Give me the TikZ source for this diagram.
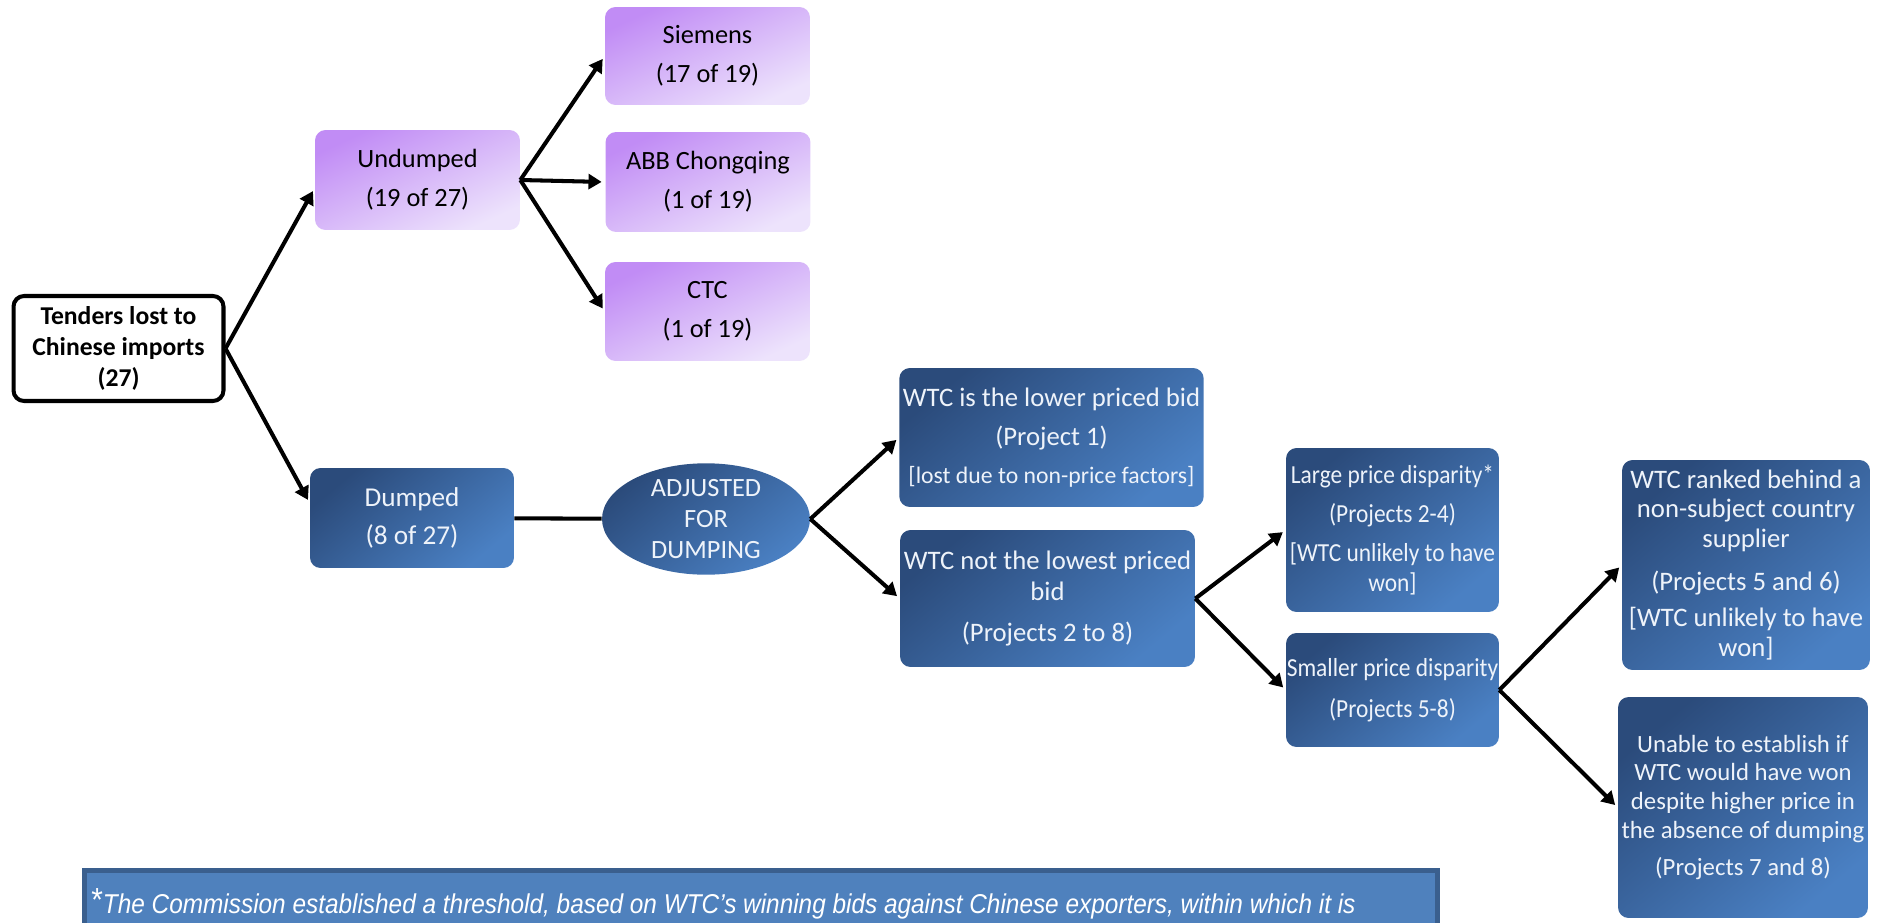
\documentclass[tikz,border=0pt]{standalone}
\usepackage{fontspec}
\setmainfont{Carlito}
\newfontfamily\narrowfont[FakeStretch=0.9]{Carlito}
\newfontfamily\notefont[FakeStretch=0.895]{Liberation Sans}
\usetikzlibrary{arrows.meta,shapes.geometric}
\definecolor{lilacA}{HTML}{C18CF5}
\definecolor{lilacB}{HTML}{EDE3FC}
\definecolor{navyA}{HTML}{2B4B7B}
\definecolor{navyB}{HTML}{4A80C3}
\definecolor{navytext}{HTML}{EEF3FA}
\definecolor{notefill}{HTML}{4F81BD}
\definecolor{noteedge}{HTML}{3A5F8E}
\begin{document}
\begin{tikzpicture}[x=0.02cm,y=-0.02cm,
    box/.style={rounded corners=6pt, align=center, inner sep=2pt},
    lilac/.style={box, top color=lilacA, bottom color=lilacB, shading angle=25,
      font=\fontsize{15}{18}\selectfont},
    navy/.style={box, top color=navyA, bottom color=navyB, shading angle=40,
      text=navytext, font=\fontsize{15.2}{17.5}\selectfont},
    link/.style={line width=2.3pt, -{Triangle[length=7.5pt,width=8.5pt]}, shorten >=2pt}]
    \useasboundingbox (0,0) rectangle (1880,923);
    \clip (0,0) rectangle (1880,923);

    \node[box, draw, line width=2.3pt, fill=white, minimum width=4.2cm, minimum height=2.1cm,
      font=\fontsize{14.6}{17.4}\selectfont\bfseries] (tenders) at (118.5,348.5)
      {Tenders lost to\\Chinese imports\\(27)};

    \node[lilac, minimum width=4.1cm, minimum height=2cm] (undumped) at (417.5,180) {Undumped\\[4pt](19 of 27)};
    \node[lilac, minimum width=4.1cm, minimum height=1.96cm] (siemens) at (707.5,56) {Siemens\\[4pt](17 of 19)};
    \node[lilac, minimum width=4.1cm, minimum height=2cm] (abb) at (708,182) {ABB Chongqing\\[4pt](1 of 19)};
    \node[lilac, minimum width=4.1cm, minimum height=1.98cm] (ctc) at (707.5,311.5) {CTC\\[4pt](1 of 19)};

    \node[navy, font=\fontsize{15.5}{18}\selectfont, minimum width=4.08cm, minimum height=2cm] (dumped) at (412,518)
      {Dumped\\[4pt](8 of 27)};
    \node[navy, ellipse, inner sep=0pt, font=\fontsize{15}{17.5}\selectfont, minimum width=4.16cm, minimum height=1.96cm]
      (adjusted) at (706,519) {ADJUSTED\\FOR\\DUMPING};

    \node[navy, minimum width=6.06cm, minimum height=2.78cm] (lower) at (1051.5,437.5)
      {WTC is the lower priced bid\\[5pt](Project 1)\\[4pt]{\fontsize{13.5}{15}\selectfont [lost due to non-price factors]}};
    \node[navy, minimum width=5.9cm, minimum height=2.74cm] (notlow) at (1047.5,598.5)
      {WTC not the lowest priced\\bid\\[6pt](Projects 2 to 8)};

    \node[navy, inner sep=0pt, font=\narrowfont\fontsize{14.8}{17}\selectfont, minimum width=4.26cm, minimum height=3.28cm]
      (large) at (1392.5,530)
      {Large price disparity*\\[5pt](Projects 2-4)\\[5pt]{[}WTC unlikely to have\\won]};
    \node[navy, inner sep=0pt, font=\narrowfont\fontsize{14.8}{17}\selectfont, minimum width=4.26cm, minimum height=2.28cm]
      (smaller) at (1392.5,690)
      {Smaller price disparity\\[6pt](Projects 5-8)};

    \node[navy, font=\fontsize{15.2}{17}\selectfont, minimum width=4.96cm, minimum height=4.2cm] (ranked) at (1746,565)
      {WTC ranked behind a\\non-subject country\\supplier\\[7pt](Projects 5 and 6)\\[4pt]{[}WTC unlikely to have\\won]};
    \node[navy, font=\fontsize{14.1}{16.3}\selectfont, minimum width=5cm, minimum height=4.42cm] (unable) at (1743,807.5)
      {Unable to establish if\\WTC would have won\\despite higher price in\\the absence of dumping\\[5pt](Projects 7 and 8)};

    \draw[link] (tenders.east) -- ([yshift=-0.16cm]undumped.west);
    \draw[link] (tenders.east) -- ([yshift=0.3cm]dumped.west);
    \draw[link] (undumped.east) -- (siemens.west);
    \draw[link] (undumped.east) -- (abb.west);
    \draw[link] (undumped.east) -- (ctc.west);
    \draw[line width=2.3pt] (dumped) -- (adjusted);
    \draw[link] (adjusted.east) -- (lower.west);
    \draw[link] (adjusted.east) -- (notlow.west);
    \draw[link] (notlow.east) -- (large.west);
    \draw[link] (notlow.east) -- (smaller.west);
    \draw[link] (smaller.east) -- (ranked.west);
    \draw[link] (smaller.east) -- (unable.west);

    \draw[draw=noteedge, fill=notefill, line width=2.8pt] (84.5,870.5) rectangle (1437.5,990);
    \node[anchor=base west, inner sep=0pt, text=white, font=\notefont\itshape\fontsize{15.5}{18}\selectfont]
      (note) at (91,913) {\raisebox{1pt}{\upshape\fontsize{19}{19}\selectfont *}The Commission established a threshold, based on WTC’s winning bids against Chinese exporters, within which it is};
\end{tikzpicture}
\end{document}
